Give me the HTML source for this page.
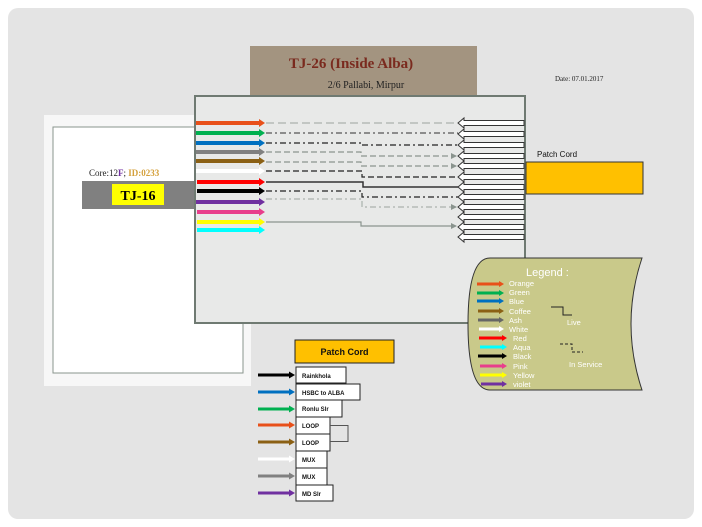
<!DOCTYPE html>
<html><head><meta charset="utf-8"><style>
html,body{margin:0;padding:0;background:#fff}
svg{display:block}
text{font-family:"Liberation Sans",sans-serif}
.s{font-family:"Liberation Serif",serif}
</style></head><body>
<svg width="702" height="527" viewBox="0 0 702 527" xmlns="http://www.w3.org/2000/svg">
<defs>
<marker id="ah" markerWidth="6" markerHeight="6" refX="5" refY="3" orient="auto" markerUnits="userSpaceOnUse"><path d="M0,0 L6,3 L0,6 z" fill="#8a948e"/></marker>
</defs>
<rect x="0" y="0" width="702" height="527" fill="#fff"/>
<rect x="8" y="8" width="686" height="511" rx="10" fill="#e4e4e4"/>
<rect x="44" y="115" width="207" height="271" fill="#f7f7f7"/>
<rect x="53" y="127" width="190" height="246" fill="#fff" stroke="#8a948e" stroke-width="1"/>
<text x="89" y="176" font-size="9" class="s" fill="#222">Core:12<tspan fill="#7030a0" font-weight="bold">F</tspan>; <tspan fill="#d4a03c" font-weight="bold">ID:0233</tspan></text>
<rect x="82" y="181" width="114" height="28" fill="#808080"/>
<rect x="112" y="184" width="52" height="21" fill="#ffff00"/>
<text x="138" y="200" font-size="14" class="s" font-weight="bold" text-anchor="middle">TJ-16</text>
<rect x="250" y="46" width="227" height="50" fill="#a39480"/>
<text x="351" y="68" font-size="15" class="s" font-weight="bold" fill="#7a2a1e" text-anchor="middle">TJ-26 (Inside  Alba)</text>
<text x="366" y="88" font-size="10" class="s" fill="#222" text-anchor="middle">2/6 Pallabi, Mirpur</text>
<text x="555" y="81" font-size="7" class="s" fill="#222">Date: 07.01.2017</text>
<rect x="195" y="96" width="330" height="227" fill="#e8e9e8" stroke="#6f7a72" stroke-width="2"/>
<g stroke-width="4">
<line x1="196" y1="123" x2="260" y2="123" stroke="#e8501a"/><path d="M259,119 L265,123 L259,127z" fill="#e8501a"/>
<line x1="196" y1="133" x2="260" y2="133" stroke="#00b050"/><path d="M259,129 L265,133 L259,137z" fill="#00b050"/>
<line x1="196" y1="143" x2="260" y2="143" stroke="#0070c0"/><path d="M259,139 L265,143 L259,147z" fill="#0070c0"/>
<line x1="196" y1="152" x2="260" y2="152" stroke="#808080"/><path d="M259,148 L265,152 L259,156z" fill="#808080"/>
<line x1="196" y1="161" x2="260" y2="161" stroke="#8b6014"/><path d="M259,157 L265,161 L259,165z" fill="#8b6014"/>
<line x1="196" y1="171" x2="260" y2="171" stroke="#fff"/><path d="M259,167 L265,171 L259,175z" fill="#fff"/>
<line x1="197" y1="182" x2="260" y2="182" stroke="#ff0000"/><path d="M259,178 L265,182 L259,186z" fill="#ff0000"/>
<line x1="197" y1="191" x2="260" y2="191" stroke="#000"/><path d="M259,187 L265,191 L259,195z" fill="#000"/>
<line x1="196" y1="202" x2="260" y2="202" stroke="#7030a0"/><path d="M259,198 L265,202 L259,206z" fill="#7030a0"/>
<line x1="197" y1="212" x2="260" y2="212" stroke="#e83e8c"/><path d="M259,208 L265,212 L259,216z" fill="#e83e8c"/>
<line x1="197" y1="222" x2="260" y2="222" stroke="#ffff00"/><path d="M259,218 L265,222 L259,226z" fill="#ffff00"/>
<line x1="197" y1="230" x2="260" y2="230" stroke="#00ffff"/><path d="M259,226 L265,230 L259,234z" fill="#00ffff"/>
</g>
<g fill="none" stroke-width="1.2">
<path d="M266,123 H458" stroke="#aab2ad" stroke-dasharray="8,4"/>
<path d="M266,133 H458" stroke="#555" stroke-dasharray="6,3,2,3"/>
<path d="M266,143 H362 V145 H458" stroke="#222" stroke-dasharray="6,3,2,3"/>
<path d="M266,152 H361 V156 H456" stroke="#8a948e" stroke-dasharray="6,3" marker-end="url(#ah)"/>
<path d="M266,162 H361 V166 H456" stroke="#8a948e" stroke-dasharray="6,3" marker-end="url(#ah)"/>
<path d="M266,171 H362 V177 H458" stroke="#222" stroke-dasharray="6,3"/>
<path d="M266,182 H363 V187 H458" stroke="#333" stroke-width="1.5"/>
<path d="M266,191 H362 V197 H458" stroke="#222" stroke-dasharray="6,3,2,3"/>
<path d="M266,199 H362 V207 H456" stroke="#aab2ad" stroke-dasharray="6,3,2,3" marker-end="url(#ah)"/>
<path d="M266,222 H361 V226 H456" stroke="#8a948e" marker-end="url(#ah)"/>
</g>
<g fill="#fff" stroke="#333" stroke-width="1">
<path d="M524,120.5 H464 V118 L458,123 L464,128 V125.5 H524z"/>
<path d="M524,131.5 H464 V129 L458,134 L464,139 V136.5 H524z"/>
<path d="M524,142.5 H464 V140 L458,145 L464,150 V147.5 H524z"/>
<path d="M524,153.5 H464 V151 L458,156 L464,161 V158.5 H524z"/>
<path d="M524,163.5 H464 V161 L458,166 L464,171 V168.5 H524z"/>
<path d="M524,174.5 H464 V172 L458,177 L464,182 V179.5 H524z"/>
<path d="M524,184.5 H464 V182 L458,187 L464,192 V189.5 H524z"/>
<path d="M524,194.5 H464 V192 L458,197 L464,202 V199.5 H524z"/>
<path d="M524,204.5 H464 V202 L458,207 L464,212 V209.5 H524z"/>
<path d="M524,214.5 H464 V212 L458,217 L464,222 V219.5 H524z"/>
<path d="M524,224.5 H464 V222 L458,227 L464,232 V229.5 H524z"/>
<path d="M524,234.5 H464 V232 L458,237 L464,242 V239.5 H524z"/>
</g>
<text x="537" y="157" font-size="8" fill="#111">Patch Cord</text>
<rect x="526" y="162" width="117" height="32" fill="#ffc000" stroke="#333" stroke-width="1"/>
<path d="M490,258 H642 Q620,324 642,390 H490 Q468,390 468,324 Q468,258 490,258z" fill="#c9c98a" stroke="#333" stroke-width="1"/>
<text x="526" y="276" font-size="11" fill="#fff">Legend :</text>
<g font-size="7.5" fill="#fff">
<text x="509" y="286">Orange</text><text x="509" y="295">Green</text><text x="509" y="304">Blue</text>
<text x="509" y="314">Coffee</text><text x="509" y="323">Ash</text><text x="509" y="332">White</text>
<text x="513" y="341">Red</text><text x="513" y="350">Aqua</text><text x="513" y="359">Black</text>
<text x="513" y="369">Pink</text><text x="513" y="378">Yellow</text><text x="513" y="387">violet</text>
<text x="567" y="325">Live</text><text x="569" y="367">In Service</text>
</g>
<g stroke-width="3">
<line x1="477" y1="284" x2="500" y2="284" stroke="#e8501a"/><path d="M499,281 L504,284 L499,287z" fill="#e8501a"/>
<line x1="477" y1="293" x2="500" y2="293" stroke="#00b050"/><path d="M499,290 L504,293 L499,296z" fill="#00b050"/>
<line x1="477" y1="301" x2="500" y2="301" stroke="#0070c0"/><path d="M499,298 L504,301 L499,304z" fill="#0070c0"/>
<line x1="478" y1="311" x2="500" y2="311" stroke="#8b6014"/><path d="M499,308 L504,311 L499,314z" fill="#8b6014"/>
<line x1="478" y1="320" x2="500" y2="320" stroke="#666"/><path d="M499,317 L504,320 L499,323z" fill="#666"/>
<line x1="479" y1="329" x2="500" y2="329" stroke="#fff"/><path d="M499,326 L504,329 L499,332z" fill="#fff"/>
<line x1="479" y1="338" x2="503" y2="338" stroke="#f00"/><path d="M502,335 L507,338 L502,341z" fill="#f00"/>
<line x1="480" y1="347" x2="503" y2="347" stroke="#00ffff"/><path d="M502,344 L507,347 L502,350z" fill="#00ffff"/>
<line x1="478" y1="356" x2="503" y2="356" stroke="#000"/><path d="M502,353 L507,356 L502,359z" fill="#000"/>
<line x1="480" y1="366" x2="503" y2="366" stroke="#e83e8c"/><path d="M502,363 L507,366 L502,369z" fill="#e83e8c"/>
<line x1="480" y1="375" x2="503" y2="375" stroke="#ffff00"/><path d="M502,372 L507,375 L502,378z" fill="#ffff00"/>
<line x1="481" y1="384" x2="503" y2="384" stroke="#7030a0"/><path d="M502,381 L507,384 L502,387z" fill="#7030a0"/>
</g>
<path d="M551,307 H563 V315 H572" fill="none" stroke="#222" stroke-width="1"/>
<path d="M560,344 H572 V352 H583" fill="none" stroke="#222" stroke-dasharray="3,2"/>
<rect x="295" y="340" width="99" height="23" fill="#ffc000" stroke="#222" stroke-width="1"/>
<text x="344.5" y="355" font-size="9" font-weight="bold" text-anchor="middle" fill="#111">Patch Cord</text>
<g stroke-width="3">
<line x1="258" y1="375" x2="290" y2="375" stroke="#000"/><path d="M289,371.5 L295,375 L289,378.5z" fill="#000"/>
<line x1="258" y1="392" x2="290" y2="392" stroke="#0070c0"/><path d="M289,388.5 L295,392 L289,395.5z" fill="#0070c0"/>
<line x1="258" y1="409" x2="290" y2="409" stroke="#00b050"/><path d="M289,405.5 L295,409 L289,412.5z" fill="#00b050"/>
<line x1="258" y1="425" x2="290" y2="425" stroke="#e8501a"/><path d="M289,421.5 L295,425 L289,428.5z" fill="#e8501a"/>
<line x1="258" y1="442" x2="290" y2="442" stroke="#8b6014"/><path d="M289,438.5 L295,442 L289,445.5z" fill="#8b6014"/>
<line x1="258" y1="459" x2="290" y2="459" stroke="#fff"/><path d="M289,455.5 L295,459 L289,462.5z" fill="#fff"/>
<line x1="258" y1="476" x2="290" y2="476" stroke="#808080"/><path d="M289,472.5 L295,476 L289,479.5z" fill="#808080"/>
<line x1="258" y1="493" x2="290" y2="493" stroke="#7030a0"/><path d="M289,489.5 L295,493 L289,496.5z" fill="#7030a0"/>
</g>
<g fill="#fff" stroke="#222" stroke-width="1">
<rect x="296" y="367" width="50" height="16"/>
<rect x="296" y="384" width="64" height="16"/>
<rect x="296" y="400" width="46" height="17"/>
<rect x="296" y="417" width="34" height="17"/>
<rect x="296" y="434" width="34" height="17"/>
<rect x="296" y="451" width="31" height="17"/>
<rect x="296" y="468" width="31" height="17"/>
<rect x="296" y="485" width="37" height="16"/>
</g>
<path d="M330,425.5 H348 V441.5 H330" fill="none" stroke="#555" stroke-width="1"/>
<g font-size="6" font-weight="bold" fill="#111">
<text x="302" y="378">Rainkhola</text><text x="302" y="395">HSBC to ALBA</text>
<text x="302" y="411">Ronlu Slr</text><text x="302" y="428">LOOP</text>
<text x="302" y="445">LOOP</text><text x="302" y="462">MUX</text>
<text x="302" y="479">MUX</text><text x="302" y="496">MD Slr</text>
</g>
</svg>
</body></html>
